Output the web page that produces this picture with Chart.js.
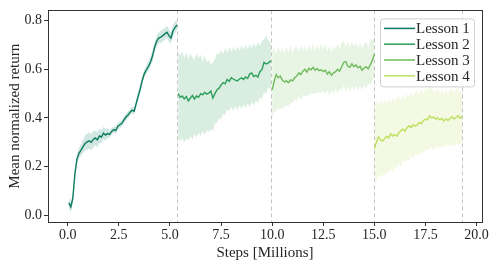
<!DOCTYPE html>
<html>
<head>
<meta charset="utf-8">
<script src="https://cdn.jsdelivr.net/npm/chart.js@4/dist/chart.umd.min.js"></script>
<style>
html,body{margin:0;padding:0;background:#fff;}
#wrap{width:498px;height:267px;position:relative;}
</style>
</head>
<body>
<div id="wrap"><canvas id="c" width="498" height="267"></canvas></div>
<script>
const lessonNames = ['Lesson 1', 'Lesson 2', 'Lesson 3', 'Lesson 4'];
const lessonColors = ['#0a7b5e', '#2e9e5b', '#6dbb5a', '#bfe05e'];
const lessonFills = ['rgba(10,123,94,0.18)', 'rgba(46,158,91,0.18)', 'rgba(109,187,90,0.16)', 'rgba(191,224,94,0.18)'];
const lessonEnds = [5.35, 9.95, 15.0, 19.3];
const xTicks = [0, 2.5, 5, 7.5, 10, 12.5, 15, 17.5, 20];
const yTicks = [0, 0.2, 0.4, 0.6, 0.8];

const l1Steps = [0.05,0.15,0.25,0.35,0.45,0.55,0.65,0.75,0.85,0.95,1.05,1.15,1.25,1.35,1.45,1.55,1.65,1.75,1.85,1.95,2.05,2.15,2.25,2.35,2.45,2.55,2.65,2.75,2.85,2.95,3.05,3.15,3.25,3.35,3.45,3.55,3.65,3.75,3.85,3.95,4.05,4.15,4.25,4.35,4.45,4.55,4.65,4.75,4.85,4.95,5.05,5.15,5.25,5.35];
const l1Mean = [0.052,0.035,0.07,0.17,0.23,0.255,0.268,0.282,0.295,0.302,0.306,0.300,0.312,0.318,0.310,0.326,0.322,0.338,0.330,0.336,0.333,0.345,0.352,0.348,0.366,0.372,0.378,0.392,0.404,0.412,0.424,0.432,0.428,0.460,0.490,0.520,0.556,0.582,0.598,0.612,0.630,0.655,0.690,0.715,0.728,0.732,0.738,0.745,0.752,0.738,0.728,0.758,0.772,0.782];
const l1Upper = [0.075,0.058,0.09,0.19,0.25,0.278,0.292,0.312,0.328,0.336,0.34,0.334,0.346,0.348,0.342,0.356,0.35,0.364,0.356,0.358,0.35,0.36,0.366,0.362,0.38,0.386,0.392,0.406,0.418,0.426,0.438,0.446,0.444,0.476,0.506,0.536,0.572,0.598,0.616,0.632,0.652,0.678,0.712,0.738,0.752,0.758,0.764,0.768,0.778,0.764,0.752,0.782,0.796,0.802];
const l1Lower = [0.03,0.014,0.05,0.15,0.212,0.234,0.246,0.256,0.266,0.27,0.274,0.268,0.28,0.288,0.28,0.298,0.296,0.314,0.306,0.318,0.318,0.332,0.338,0.336,0.352,0.358,0.364,0.378,0.39,0.398,0.41,0.418,0.414,0.444,0.474,0.504,0.54,0.566,0.582,0.594,0.61,0.634,0.67,0.694,0.706,0.708,0.714,0.722,0.728,0.714,0.706,0.736,0.75,0.762];

const l2Steps = [5.4,5.5,5.6,5.7,5.8,5.9,6.0,6.1,6.2,6.3,6.4,6.5,6.6,6.7,6.8,6.9,7.0,7.1,7.2,7.3,7.4,7.5,7.6,7.7,7.8,7.9,8.0,8.1,8.2,8.3,8.4,8.5,8.6,8.7,8.8,8.9,9.0,9.1,9.2,9.3,9.4,9.5,9.6,9.7,9.8,9.9,9.95];
const l2Mean = [0.50,0.485,0.49,0.478,0.488,0.47,0.482,0.492,0.478,0.49,0.485,0.50,0.495,0.505,0.498,0.502,0.51,0.482,0.5,0.515,0.522,0.535,0.545,0.54,0.558,0.55,0.565,0.56,0.555,0.552,0.56,0.565,0.558,0.568,0.562,0.58,0.585,0.57,0.575,0.568,0.59,0.598,0.628,0.622,0.625,0.632,0.634];
const l2Upper = [0.672,0.655,0.675,0.645,0.668,0.64,0.665,0.65,0.636,0.668,0.645,0.66,0.632,0.655,0.63,0.638,0.618,0.628,0.64,0.668,0.66,0.68,0.662,0.686,0.668,0.69,0.672,0.69,0.674,0.694,0.676,0.698,0.68,0.70,0.682,0.704,0.686,0.706,0.69,0.712,0.696,0.716,0.722,0.736,0.718,0.714,0.70];
const l2Lower = [0.318,0.305,0.318,0.3,0.316,0.31,0.326,0.312,0.334,0.32,0.338,0.326,0.346,0.33,0.35,0.342,0.352,0.348,0.378,0.38,0.398,0.396,0.418,0.412,0.436,0.428,0.446,0.43,0.45,0.434,0.452,0.436,0.456,0.44,0.46,0.446,0.466,0.452,0.472,0.462,0.484,0.478,0.506,0.5,0.526,0.52,0.53];

const l3Steps = [10.0,10.1,10.2,10.3,10.4,10.5,10.6,10.7,10.8,10.9,11.0,11.1,11.2,11.3,11.4,11.5,11.6,11.7,11.8,11.9,12.0,12.1,12.2,12.3,12.4,12.5,12.6,12.7,12.8,12.9,13.0,13.1,13.2,13.3,13.4,13.5,13.6,13.7,13.8,13.9,14.0,14.1,14.2,14.3,14.4,14.5,14.6,14.7,14.8,14.9,15.0];
const l3Mean = [0.515,0.55,0.578,0.565,0.572,0.556,0.548,0.552,0.545,0.556,0.552,0.565,0.572,0.585,0.578,0.592,0.60,0.588,0.604,0.598,0.608,0.596,0.602,0.594,0.598,0.59,0.596,0.58,0.59,0.575,0.585,0.59,0.6,0.592,0.61,0.628,0.632,0.612,0.608,0.622,0.61,0.618,0.606,0.612,0.596,0.605,0.61,0.602,0.618,0.636,0.662];
const l3Upper = [0.675,0.688,0.664,0.694,0.666,0.688,0.66,0.692,0.67,0.698,0.666,0.69,0.694,0.67,0.702,0.674,0.696,0.672,0.7,0.678,0.706,0.676,0.698,0.678,0.708,0.682,0.702,0.674,0.694,0.67,0.692,0.684,0.706,0.682,0.71,0.716,0.692,0.712,0.688,0.716,0.692,0.712,0.686,0.708,0.684,0.706,0.71,0.69,0.718,0.722,0.73];
const l3Lower = [0.40,0.426,0.43,0.438,0.436,0.442,0.444,0.452,0.45,0.46,0.462,0.48,0.464,0.49,0.472,0.496,0.488,0.492,0.494,0.502,0.498,0.504,0.5,0.508,0.502,0.51,0.496,0.516,0.492,0.512,0.5,0.518,0.5,0.52,0.514,0.532,0.51,0.528,0.508,0.532,0.514,0.534,0.512,0.532,0.514,0.536,0.52,0.54,0.536,0.556,0.565];

const l4Steps = [15.0,15.1,15.2,15.3,15.4,15.5,15.6,15.7,15.8,15.9,16.0,16.1,16.2,16.3,16.4,16.5,16.6,16.7,16.8,16.9,17.0,17.1,17.2,17.3,17.4,17.5,17.6,17.7,17.8,17.9,18.0,18.1,18.2,18.3,18.4,18.5,18.6,18.7,18.8,18.9,19.0,19.1,19.2,19.3];
const l4Mean = [0.275,0.30,0.322,0.31,0.305,0.315,0.325,0.318,0.335,0.326,0.332,0.325,0.34,0.348,0.355,0.345,0.36,0.368,0.36,0.372,0.366,0.372,0.382,0.376,0.39,0.396,0.392,0.408,0.40,0.404,0.395,0.40,0.392,0.398,0.388,0.396,0.39,0.398,0.405,0.396,0.402,0.41,0.398,0.408];
const l4Upper = [0.455,0.472,0.452,0.476,0.456,0.474,0.454,0.48,0.46,0.484,0.464,0.482,0.49,0.472,0.496,0.476,0.5,0.482,0.504,0.486,0.506,0.514,0.496,0.518,0.5,0.522,0.516,0.538,0.516,0.52,0.504,0.524,0.5,0.518,0.498,0.516,0.496,0.514,0.52,0.5,0.518,0.522,0.504,0.515];
const l4Lower = [0.16,0.142,0.166,0.156,0.168,0.164,0.176,0.172,0.192,0.174,0.202,0.194,0.216,0.198,0.224,0.22,0.226,0.228,0.246,0.23,0.254,0.246,0.252,0.252,0.268,0.264,0.272,0.268,0.284,0.266,0.286,0.276,0.282,0.278,0.286,0.282,0.29,0.284,0.292,0.28,0.294,0.288,0.296,0.298];

const lessons = [
  {steps: l1Steps, mean: l1Mean, upper: l1Upper, lower: l1Lower},
  {steps: l2Steps, mean: l2Mean, upper: l2Upper, lower: l2Lower},
  {steps: l3Steps, mean: l3Mean, upper: l3Upper, lower: l3Lower},
  {steps: l4Steps, mean: l4Mean, upper: l4Upper, lower: l4Lower}
];

const pts = (xs, ys) => xs.map((x, i) => ({x: x, y: ys[i]}));
const datasets = [];
lessons.forEach((L, i) => {
  datasets.push({label: '_lo' + i, data: pts(L.steps, L.lower), borderWidth: 0, pointRadius: 0, fill: false, order: 2, tension: 0});
  datasets.push({label: '_hi' + i, data: pts(L.steps, L.upper), borderWidth: 0, pointRadius: 0, fill: '-1', backgroundColor: lessonFills[i], order: 2, tension: 0});
});
lessons.forEach((L, i) => {
  datasets.push({label: lessonNames[i], data: pts(L.steps, L.mean), borderColor: lessonColors[i], borderWidth: 1.4, pointRadius: 0, fill: false, order: 0, tension: 0});
});

const SERIF = '"Liberation Serif", "DejaVu Serif", serif';
const TXT = '#262626';

const decor = {
  id: 'decor',
  beforeDatasetsDraw(chart) {
    const {ctx, chartArea: a, scales: {x}} = chart;
    ctx.save();
    ctx.strokeStyle = '#c4c4c4';
    ctx.lineWidth = 1;
    ctx.setLineDash([4, 3]);
    lessonEnds.forEach(v => {
      const px = Math.round(x.getPixelForValue(v)) + 0.5;
      ctx.beginPath(); ctx.moveTo(px, a.top); ctx.lineTo(px, a.bottom); ctx.stroke();
    });
    ctx.restore();
  },
  afterDraw(chart) {
    const {ctx, chartArea: a} = chart;
    ctx.save();
    ctx.strokeStyle = '#333';
    ctx.lineWidth = 1;
    ctx.strokeRect(Math.round(a.left) + 0.5, Math.round(a.top) + 0.5, Math.round(a.right - a.left), Math.round(a.bottom - a.top));
    const bw = 94, bh = 68;
    const bx = a.right - 8 - bw, by = a.top + 8;
    ctx.fillStyle = 'rgba(255,255,255,0.85)';
    ctx.strokeStyle = '#d0d0d0';
    ctx.beginPath();
    ctx.roundRect(bx + 0.5, by + 0.5, bw, bh, 3);
    ctx.fill(); ctx.stroke();
    ctx.font = '15px ' + SERIF;
    ctx.textBaseline = 'middle';
    ctx.fillStyle = TXT;
    lessonNames.forEach((n, i) => {
      const yy = by + 10 + i * 15.8;
      ctx.strokeStyle = lessonColors[i];
      ctx.lineWidth = 1.5;
      ctx.beginPath(); ctx.moveTo(bx + 4, yy); ctx.lineTo(bx + 35, yy); ctx.stroke();
      ctx.fillText(n, bx + 36, yy + 1);
    });
    ctx.restore();
  }
};

new Chart(document.getElementById('c'), {
  type: 'line',
  data: {datasets: datasets},
  options: {
    responsive: false,
    animation: false,
    layout: {padding: {top: 5, right: 16, left: 0, bottom: 0}},
    plugins: {legend: {display: false}, tooltip: {enabled: false}, filler: {propagate: false}},
    scales: {
      x: {
        type: 'linear', min: -0.965, max: 20.265,
        afterFit(s) { s.height = 45; },
        afterBuildTicks(s) { s.ticks = xTicks.map(v => ({value: v})); },
        grid: {drawOnChartArea: false, drawTicks: true, tickLength: 4, tickColor: '#333', color: '#333'},
        border: {display: false},
        ticks: {padding: 1, color: TXT, font: {family: SERIF, size: 14}, maxRotation: 0, callback: v => v.toFixed(1)},
        title: {display: true, text: 'Steps [Millions]', color: TXT, font: {family: SERIF, size: 15}, padding: {top: 0, bottom: 5}}
      },
      y: {
        type: 'linear', min: -0.027, max: 0.8415,
        afterFit(s) { s.width = 48; },
        afterBuildTicks(s) { s.ticks = yTicks.map(v => ({value: v})); },
        grid: {drawOnChartArea: false, drawTicks: true, tickLength: 4, tickColor: '#333', color: '#333'},
        border: {display: false},
        ticks: {padding: 2, color: TXT, font: {family: SERIF, size: 14}, callback: v => v.toFixed(1)},
        title: {display: true, text: 'Mean normalized return', color: TXT, font: {family: SERIF, size: 15}, padding: {top: 6, bottom: 0}}
      }
    }
  },
  plugins: [decor]
});
</script>
</body>
</html>
